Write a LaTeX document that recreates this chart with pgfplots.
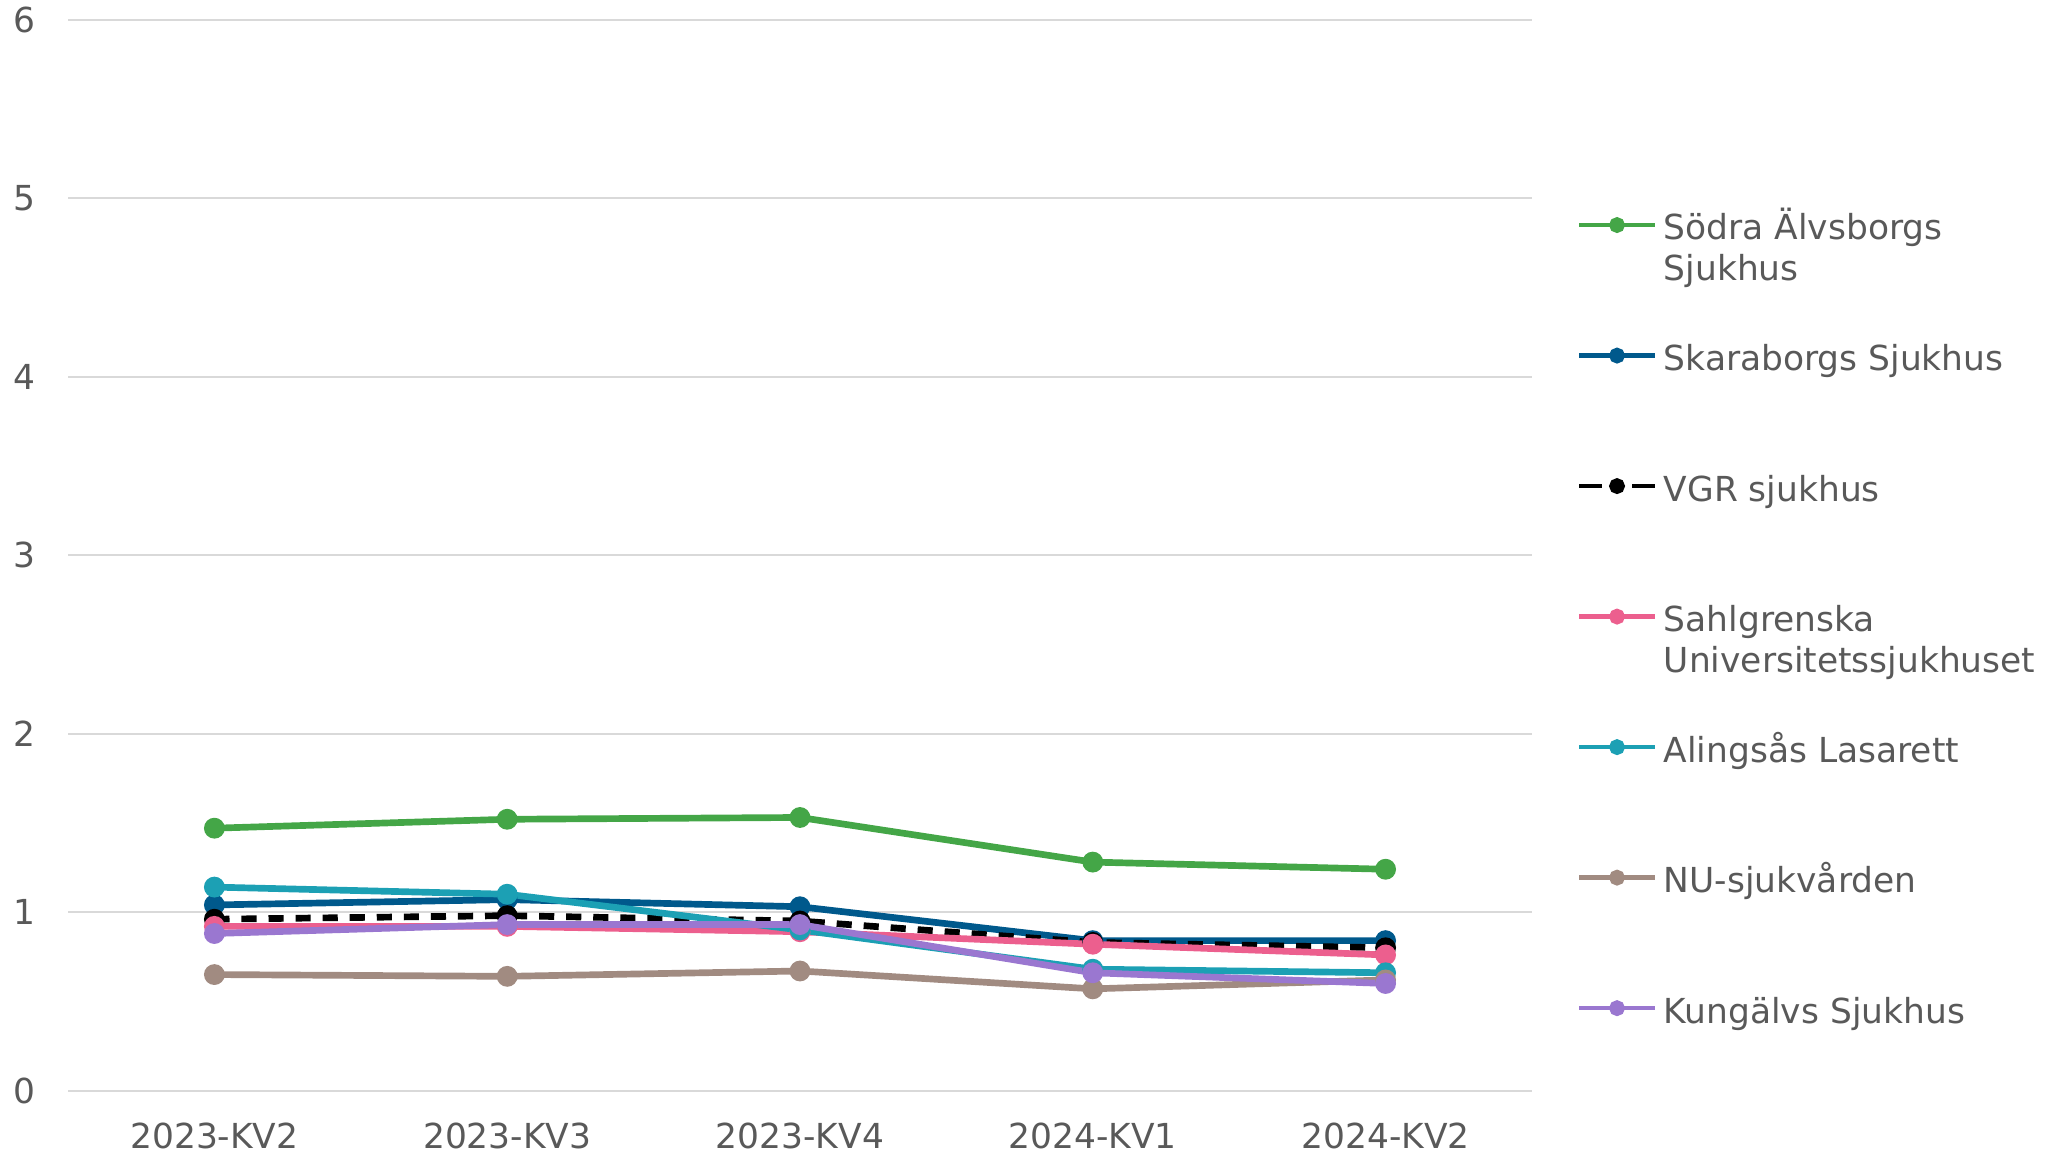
\documentclass[border=0pt]{standalone}
\usepackage{pgfplots}
\pgfplotsset{compat=1.18}
\usepackage{fontspec}
\setmainfont{DejaVu Sans}

\definecolor{textgray}{HTML}{595959}
\definecolor{gridgray}{HTML}{D9D9D9}
\definecolor{csodra}{HTML}{44A647}
\definecolor{cskara}{HTML}{00598C}
\definecolor{csahl}{HTML}{EC5F8E}
\definecolor{caling}{HTML}{1CA0B4}
\definecolor{cnu}{HTML}{A18B81}
\definecolor{ckung}{HTML}{9A77D0}

% legend text, second line hangs into the row gap
\newcommand\lgd[1]{\vtop{\hbox{\rule{0pt}{10pt}#1}}}
\newcommand\lgdd[2]{\vtop{\hbox{\rule{0pt}{10pt}#1}\hbox{#2}}}

\begin{document}
\begin{tikzpicture}
\begin{axis}[
    scale only axis,
    width=14.64cm, height=10.71cm,
    xmin=-0.5, xmax=4.5,
    ymin=0, ymax=6,
    xtick={0,1,2,3,4},
    xticklabels={2023-KV2,2023-KV3,2023-KV4,2024-KV1,2024-KV2},
    ytick={0,1,2,3,4,5,6},
    ymajorgrids,
    grid style={gridgray, line width=0.6pt},
    axis line style={draw=none},
    major tick length=0pt,
    tick label style={font=\fontsize{9.8}{12}\selectfont, text=textgray},
    /pgf/number format/assume math mode=true,
    xticklabel style={yshift=-0.2cm},
    yticklabel style={xshift=-0.2cm},
    every axis plot/.append style={line width=1.9pt, mark=*, mark size=2pt, mark options={solid}},
    legend image code/.code={\draw[mark repeat=2,mark phase=2,#1,line width=1.3pt,mark size=1.6pt]
        plot coordinates {(0cm,0cm) (0.38cm,0cm) (0.76cm,0cm)};},
    legend cell align=left,
    legend style={at={(1.0301,0.8277)}, anchor=north west, draw=none, fill=none,
        inner sep=0pt, row sep=0.901cm, column sep=0.065cm,
        font=\fontsize{9.8}{11.6}\selectfont, text=textgray,
        nodes={inner sep=0pt}},
]
\addplot[csodra] coordinates {(0,1.47) (1,1.52) (2,1.53) (3,1.28) (4,1.24)};
\addlegendentry{\lgdd{Södra Älvsborgs}{Sjukhus}}
\addplot[cskara] coordinates {(0,1.04) (1,1.07) (2,1.03) (3,0.84) (4,0.84)};
\addlegendentry{\lgd{Skaraborgs Sjukhus}}
\addplot[black, dash pattern=on 4.3pt off 3.4pt,
    legend image post style={dash pattern=on 0.23cm off 0.30cm}]
    coordinates {(0,0.96) (1,0.98) (2,0.95) (3,0.83) (4,0.80)};
\addlegendentry{\lgd{VGR sjukhus}}
\addplot[csahl] coordinates {(0,0.92) (1,0.92) (2,0.89) (3,0.82) (4,0.76)};
\addlegendentry{\lgdd{Sahlgrenska}{Universitetssjukhuset}}
\addplot[caling] coordinates {(0,1.14) (1,1.10) (2,0.90) (3,0.68) (4,0.66)};
\addlegendentry{\lgd{Alingsås Lasarett}}
\addplot[cnu] coordinates {(0,0.65) (1,0.64) (2,0.67) (3,0.57) (4,0.62)};
\addlegendentry{\lgd{NU-sjukvården}}
\addplot[ckung] coordinates {(0,0.88) (1,0.93) (2,0.93) (3,0.66) (4,0.60)};
\addlegendentry{\lgd{Kungälvs Sjukhus}}
\end{axis}
\pgfresetboundingbox
\path (current axis.south west) ++(-0.68cm,-0.644cm) rectangle ++(20.48cm,11.55cm);
\end{tikzpicture}
\end{document}
